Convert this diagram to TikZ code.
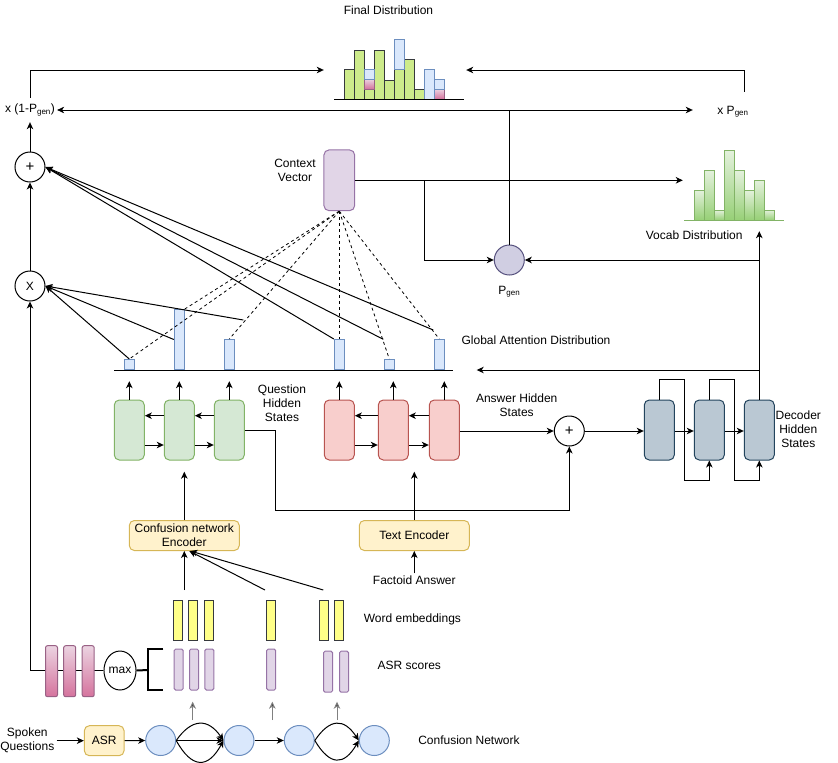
\documentclass[tikz,border=0pt]{standalone}
\usepackage{fontspec}
\setmainfont{Liberation Sans}
\usetikzlibrary{arrows.meta,shapes.geometric,calc}
\definecolor{gfill}{HTML}{D5E8D4}\definecolor{gline}{HTML}{82B366}
\definecolor{rfill}{HTML}{F8CECC}\definecolor{rline}{HTML}{B85450}
\definecolor{dfill}{HTML}{BAC8D3}\definecolor{dline}{HTML}{23445D}
\definecolor{bfill}{HTML}{DAE8FC}\definecolor{bline}{HTML}{6C8EBF}
\definecolor{pfill}{HTML}{E1D5E7}\definecolor{pline}{HTML}{9673A6}
\definecolor{yfill}{HTML}{FFF2CC}\definecolor{yline}{HTML}{D6B656}
\definecolor{wfill}{HTML}{FFFF88}\definecolor{dark}{HTML}{36393D}
\definecolor{lime}{HTML}{CDEB8B}
\definecolor{pktop}{HTML}{EBD3E1}\definecolor{pkbot}{HTML}{D5739D}\definecolor{pkline}{HTML}{996185}
\definecolor{vtop}{HTML}{E4F1DD}\definecolor{vbot}{HTML}{97D077}
\definecolor{pgfill}{HTML}{D0CEE2}\definecolor{pgline}{HTML}{56517E}
\definecolor{grayarr}{HTML}{808080}
\tikzset{
  lbl/.style={align=center, inner sep=2pt},
  arr/.style={draw=black, line width=1pt, -{Stealth[length=7pt,width=6.5pt,inset=2pt]}},
  garr/.style={draw=grayarr, line width=1pt, -{Stealth[length=7pt,width=6.5pt,inset=2pt,fill=black]}},
  ln/.style={draw=black, line width=1pt},
  dsh/.style={draw=black, line width=0.8pt, dash pattern=on 3pt off 3pt},
  hidbox/.style={rounded corners=5pt, minimum width=30pt, minimum height=60pt, inner sep=0pt, line width=1pt},
  qhid/.style={hidbox, fill=gfill, draw=gline},
  ahid/.style={hidbox, fill=rfill, draw=rline},
  dhid/.style={hidbox, fill=dfill, draw=dline},
  opcirc/.style={circle, draw=black, line width=1pt, fill=white, minimum size=30pt, inner sep=0pt},
  plusfont/.style={font=\fontsize{15}{15}\selectfont},
  attbar/.style={rectangle, fill=bfill, draw=bline, line width=1pt, minimum width=10pt, inner sep=0pt, anchor=south},
  cnnode/.style={circle, fill=bfill, draw=bline, line width=1pt, minimum size=30pt, inner sep=0pt},
  encbox/.style={rounded corners=5pt, fill=yfill, draw=yline, line width=1pt, minimum width=110pt, minimum height=30pt, inner sep=0pt, align=center},
  wbar/.style={fill=wfill, draw=dark, line width=1pt, minimum width=9pt, minimum height=40pt, inner sep=0pt},
  sbar/.style={fill=pfill, draw=pline, line width=1pt, minimum width=9pt, minimum height=41pt, inner sep=0pt, rounded corners=1.5pt},
  pkbar/.style={draw=pkline, top color=pktop, bottom color=pkbot, line width=1pt, minimum width=12pt, minimum height=51pt, inner sep=0pt, rounded corners=2pt},
  fgreen/.style={fill=lime, draw=dark, line width=1pt},
  fblue/.style={fill=bfill, draw=bline, line width=1pt},
  fpink/.style={draw=pkline, top color=pktop, bottom color=pkbot, line width=1pt},
  vbar/.style={draw=gline, top color=vtop, bottom color=vbot, line width=1pt}
}
\begin{document}
\begin{tikzpicture}[x=1pt,y=-1pt,font=\fontsize{12}{14}\selectfont]
\useasboundingbox (0,0) rectangle (838,763);

% ---------- final distribution ----------
\node[lbl] (fdt) at (388.5,10.7) {Final Distribution};
\node[inner sep=0pt, minimum width=142pt, minimum height=70pt] (fd) at (395,70) {};
\draw[fgreen] (344,99) rectangle (354,69);
\draw[fgreen] (354,99) rectangle (364,50);
\draw[fgreen] (364,99) rectangle (374,89);
\draw[fgreen] (374,99) rectangle (384,50);
\draw[fgreen] (384,99) rectangle (394,80);
\draw[fgreen] (394,99) rectangle (404,69);
\draw[fgreen] (404,99) rectangle (414,59);
\draw[fgreen] (414,99) rectangle (424,89);
\draw[fpink] (364,89) rectangle (374,79);
\draw[fpink] (434,99) rectangle (444,89);
\draw[fblue] (364,79) rectangle (374,69);
\draw[fblue] (394,69) rectangle (404,39);
\draw[fblue] (424,99) rectangle (434,69);
\draw[fblue] (434,89) rectangle (444,79);
\draw[ln] (334,99) -- (464,99);

% ---------- vocab distribution ----------
\node[inner sep=0pt, minimum width=102pt, minimum height=86pt] (vd) at (734,188) {};
\draw[vbar] (694,220) rectangle (704,190);
\draw[vbar] (704,220) rectangle (714,170);
\draw[vbar] (714,220) rectangle (724,210);
\draw[vbar] (724,220) rectangle (734,150);
\draw[vbar] (734,220) rectangle (744,170);
\draw[vbar] (744,220) rectangle (754,190);
\draw[vbar] (754,220) rectangle (764,180);
\draw[vbar] (764,220) rectangle (774,210);
\draw[draw=gline, line width=1pt] (684,220) -- (784,220);
\node[lbl] (vdt) at (694.2,235.7) {Vocab Distribution};

% ---------- left column ----------
\node[lbl, minimum height=24pt] (l1) at (30,110) {x (1-P\textsubscript{gen})};
\node[lbl, minimum width=80pt, minimum height=40pt] (l2) at (733,111.7) {x P\textsubscript{gen}};
\node[opcirc, plusfont] (plusL) at (30,167) {+};
\node[opcirc] (times) at (30,286) {X};

% ---------- context vector and p_gen ----------
\node[rounded corners=5pt, fill=pfill, draw=pline, line width=1pt, minimum width=30.7pt, minimum height=60.7pt, inner sep=0pt] (cv) at (339.3,180.3) {};
\node[lbl] (cvt) at (295,170.7) {Context\\Vector};
\node[circle, fill=pgfill, draw=pgline, line width=1pt, minimum size=30pt, inner sep=0pt] (pg) at (509.3,260) {};
\node[lbl] (pgt) at (509.3,291.7) {P\textsubscript{gen}};

% ---------- attention distribution ----------
\draw[ln] (114,370) -- (453,370);
\node[attbar, minimum height=10pt] (a1) at (129.3,370) {};
\node[attbar, minimum height=60pt] (a2) at (179.3,370) {};
\node[attbar, minimum height=30pt] (a3) at (229.3,370) {};
\node[attbar, minimum height=30pt] (a4) at (339.3,370) {};
\node[attbar, minimum height=10pt] (a5) at (389.3,370) {};
\node[attbar, minimum height=30pt] (a6) at (439.3,370) {};
\node[lbl] (gat) at (536,340.7) {Global Attention Distribution};
\coordinate (a3x) at (243.3,320);
\coordinate (a5x) at (383.3,339.3);
\coordinate (a6x) at (433.3,330);

% dashed attention lines
\draw[dsh] (cv.south) -- (a1.north);
\draw[dsh] (cv.south) -- (a2.north east);
\draw[dsh] (cv.south) -- (a3.north);
\draw[dsh] (cv.south) -- (a4.north);
\draw[dsh] (cv.south) -- (a5.north);
\draw[dsh] (cv.south) -- (a6.north);

% solid lines to X and +
\draw[arr] (a1.north) -- (times.east);
\draw[arr] (a2.west) -- (times.east);
\draw[arr] (a3x) -- (times.east);
\draw[arr] (a4.north west) -- (plusL.east);
\draw[arr] (a5x) -- (plusL.east);
\draw[arr] (a6x) -- (plusL.east);

% left column connections
\draw[arr] (times.north) -- (plusL.south);
\draw[arr] (plusL.north) -- (l1.south);
\draw[arr] (l1.north) |- (fd.west);
\draw[arr] ($(l2.north)+(11,0)$) |- (fd.east);
\coordinate (split) at (pg.north |- l1.east);
\draw[ln] (pg.north) -- (split);
\draw[arr] (split) -- (l1.east);
\draw[arr] (split) -- (split -| l2.west);

% context vector connections
\draw[arr] (cv.east) -- (cv.east -| vd.west);
\coordinate (br) at (424.3,180.3);
\draw[arr] (br |- cv.east) |- (pg.west);

% ---------- question hidden states ----------
\node[qhid] (q1) at (129.3,430) {};
\node[qhid] (q2) at (179.3,430) {};
\node[qhid] (q3) at (229.3,430) {};
\node[lbl] (qht) at (282,403.3) {Question\\Hidden\\States};
\draw[arr] ($(q3.west)+(0,-14.3)$) -- ($(q2.east)+(0,-14.3)$);
\draw[arr] ($(q2.west)+(0,-14.3)$) -- ($(q1.east)+(0,-14.3)$);
\draw[arr] ($(q1.east)+(0,15)$) -- ($(q2.west)+(0,15)$);
\draw[arr] ($(q2.east)+(0,15)$) -- ($(q3.west)+(0,15)$);
\draw[arr] (q1.north) -- ++(0,-18.3);
\draw[arr] (q2.north) -- ++(0,-18.3);
\draw[arr] (q3.north) -- ++(0,-18.3);

% ---------- answer hidden states ----------
\node[ahid] (r1) at (339.3,430) {};
\node[ahid] (r2) at (393.3,430) {};
\node[ahid] (r3) at (444.3,430) {};
\node[lbl] (aht) at (516.7,405.5) {Answer Hidden\\States};
\draw[arr] ($(r3.west)+(0,-14.3)$) -- ($(r2.east)+(0,-14.3)$);
\draw[arr] ($(r2.west)+(0,-14.3)$) -- ($(r1.east)+(0,-14.3)$);
\draw[arr] ($(r1.east)+(0,15)$) -- ($(r2.west)+(0,15)$);
\draw[arr] ($(r2.east)+(0,15)$) -- ($(r3.west)+(0,15)$);
\draw[arr] (r1.north) -- ++(0,-18.3);
\draw[arr] (r2.north) -- ++(0,-18.3);
\draw[arr] (r3.north) -- ++(0,-18.3);

\node[opcirc, plusfont] (plusA) at (569.3,431) {+};
\draw[arr] (r3.east |- plusA.west) -- (plusA.west);
\coordinate (qa) at (275,510);
\draw[arr] (q3.east) -| (qa) -| (plusA.south);

% ---------- decoder ----------
\node[dhid] (d1) at (659.3,430) {};
\node[dhid] (d2) at (709.3,430) {};
\node[dhid] (d3) at (759.3,430) {};
\node[lbl] (dht) at (798.3,429) {Decoder\\Hidden\\States};
\draw[arr] (plusA.east) -- (plusA.east -| d1.west);
\draw[arr] (d1.east |- plusA.east) -- (plusA.east -| d2.west);
\draw[arr] (d2.east |- plusA.east) -- (plusA.east -| d3.west);
\draw[arr] (d1.north) -- ++(0,-20) -| (684.3,480) -| (d2.south);
\draw[arr] (d2.north) -- ++(0,-20) -| (734.3,480) -| (d3.south);
\draw[arr] (d3.north) -- (d3.north |- vd.south);
\draw[arr] (d3.north |- pg.east) -- (pg.east);
\coordinate (attin) at (476.7,370);
\draw[arr] (d3.north |- attin) -- (attin);

% ---------- encoders ----------
\node[encbox] (cne) at (184.3,535.5) {Confusion network\\Encoder};
\node[encbox] (te) at (414.3,535.5) {Text Encoder};
\node[lbl] (fa) at (414.3,580) {Factoid Answer};
\coordinate (cneto) at (184.3,471.7);
\coordinate (teto) at (414.3,471.7);
\draw[arr] (cne.north) -- (cneto);
\draw[arr] (te.north) -- (teto);
\draw[arr] (fa.north) -- (te.south);

% ---------- word embeddings ----------
\node[wbar] (w1) at (178,620.7) {};
\node[wbar] (w2) at (193.3,620.7) {};
\node[wbar] (w3) at (208.7,620.7) {};
\node[wbar] (w4) at (271.2,620.7) {};
\node[wbar] (w5) at (323.8,620.7) {};
\node[wbar] (w6) at (339,620.7) {};
\node[lbl] (wet) at (412.4,619) {Word embeddings};
\coordinate (e1) at (184.3,590);
\coordinate (e2) at (265,590);
\coordinate (e3) at (323.3,590);
\draw[arr] (e1) -- (cne.south);
\draw[arr] (e2) -- ($(cne.south)+(5,0)$);
\draw[arr] (e3) -- ($(cne.south)+(6,0)$);

% ---------- ASR scores ----------
\node[sbar] (s1) at (178.7,669.5) {};
\node[sbar] (s2) at (194,669.5) {};
\node[sbar] (s3) at (209.3,669.5) {};
\node[sbar] (s4) at (271.2,669.5) {};
\node[sbar] (s5) at (328,671.7) {};
\node[sbar] (s6) at (344,671.7) {};
\node[lbl] (ast) at (409.3,665.7) {ASR scores};
\draw[line width=2pt] (163.3,649) -- (148.3,649) -- (148.3,690) -- (163.3,690);
\coordinate (brk) at (148.3,670);

% ---------- max pooling ----------
\node[ellipse, draw=black, fill=white, line width=1pt, minimum width=30pt, minimum height=39pt, inner sep=0pt] (mx) at (120,670.5) {max};
\draw[line width=2pt] (mx.east) -- (brk);
\draw[arr] (mx.west) -| (times.south);
\node[pkbar] (p1) at (51.5,671.2) {};
\node[pkbar] (p2) at (69.7,671.2) {};
\node[pkbar] (p3) at (88.2,671.2) {};

% ---------- confusion network ----------
\node[lbl] (sq) at (27.3,740.7) {Spoken\\Questions};
\node[encbox, minimum width=39.7pt] (asr) at (104.2,740.7) {ASR};
\node[cnnode] (c1) at (160.7,740.5) {};
\node[cnnode] (c2) at (239,740.5) {};
\node[cnnode] (c3) at (299.3,740.5) {};
\node[cnnode] (c4) at (374.3,740.5) {};
\node[lbl] (cnt) at (469,740.7) {Confusion Network};
\draw[arr] (sq.east |- asr.west) -- (asr.west);
\draw[arr] (asr.east) -- (c1.west);
\draw[arr] (c1.east) -- (c2.west);
\draw[arr] (c1.east) .. controls (192,718) and (208,718) .. (c2.west);
\draw[arr] (c1.east) .. controls (192,769) and (208,769) .. (c2.west);
\draw[arr] (c2.east) -- (c3.west);
\draw[arr] (c3.east) .. controls (330,718) and (344,718) .. (c4.west);
\draw[arr] (c3.east) .. controls (330,766) and (344,766) .. (c4.west);

\coordinate (g1s) at (192.7,720); \coordinate (g1e) at (192.7,701.7);
\coordinate (g2s) at (272.3,720); \coordinate (g2e) at (272.3,701.7);
\coordinate (g3s) at (337,720);   \coordinate (g3e) at (337,701.7);
\draw[garr] (g1s) -- (g1e);
\draw[garr] (g2s) -- (g2e);
\draw[garr] (g3s) -- (g3e);
\end{tikzpicture}
\end{document}
